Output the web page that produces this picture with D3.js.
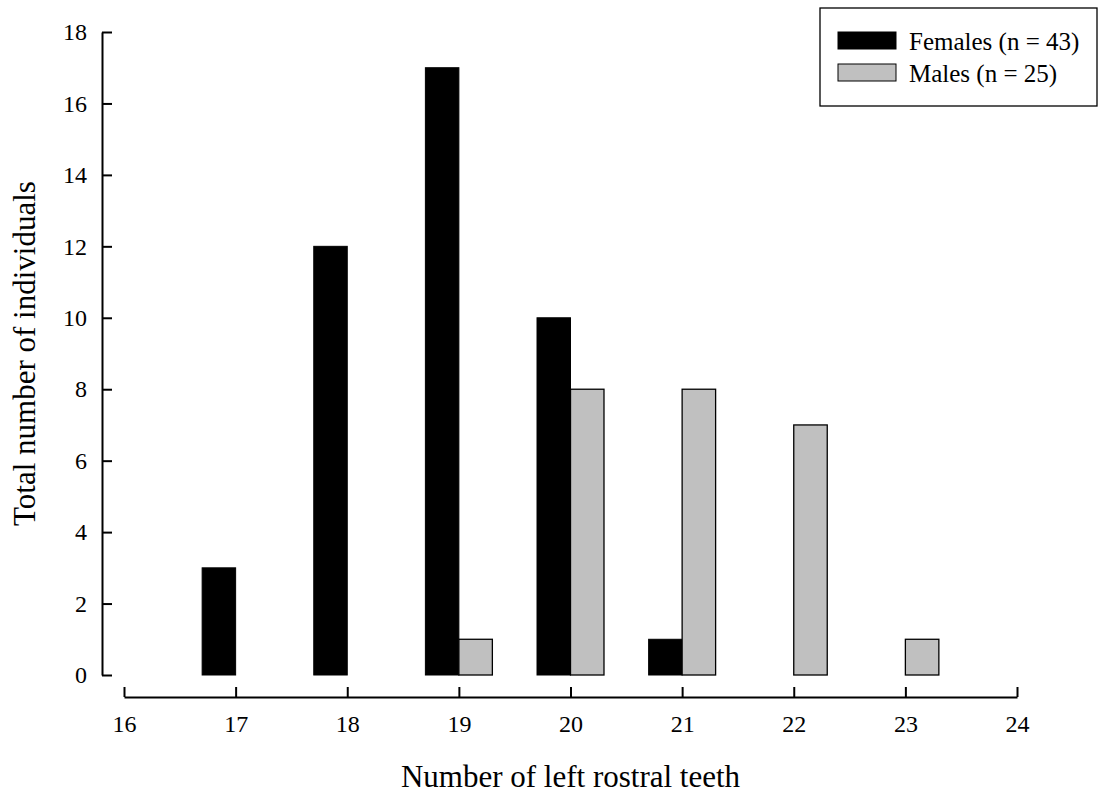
<!DOCTYPE html>
<html>
<head>
<meta charset="utf-8">
<script src="https://cdn.jsdelivr.net/npm/d3@7"></script>
<style>
  body { margin: 0; background: #fff; }
  svg { font-family: "Liberation Serif", "Times New Roman", serif; }
</style>
</head>
<body>
<svg id="chart"></svg>
<script>
const teeth = [17, 18, 19, 20, 21, 22, 23];
const females = [3, 12, 17, 10, 1, 0, 0];
const males = [0, 0, 1, 8, 8, 7, 1];
const xTicks = [16, 17, 18, 19, 20, 21, 22, 23, 24];
const yTicks = [0, 2, 4, 6, 8, 10, 12, 14, 16, 18];
const seriesNames = ["Females (n = 43)", "Males (n = 25)"];

const svg = d3.select("#chart").attr("width", 1101).attr("height", 796);

// scales
const x = d3.scaleLinear().domain([16, 24]).range([124, 1017]);
const y = d3.scaleLinear().domain([0, 18]).range([675, 32]);
const barW = x(16.3) - x(16);

// bars: females left of the tick, males right of it
const data = teeth.map((t, i) => ({ t: t, f: females[i], m: males[i] }));

svg.selectAll(".fem")
  .data(data.filter((d) => d.f > 0))
  .enter()
  .append("rect")
  .attr("x", (d) => x(d.t) - barW)
  .attr("y", (d) => y(d.f))
  .attr("width", barW)
  .attr("height", (d) => y(0) - y(d.f))
  .attr("fill", "#000")
  .attr("stroke", "#000");

svg.selectAll(".mal")
  .data(data.filter((d) => d.m > 0))
  .enter()
  .append("rect")
  .attr("x", (d) => x(d.t))
  .attr("y", (d) => y(d.m))
  .attr("width", barW)
  .attr("height", (d) => y(0) - y(d.m))
  .attr("fill", "#c0c0c0")
  .attr("stroke", "#000")
  .attr("stroke-width", 1.3);

// y axis, ticks point inward
const yAxis = svg.append("g")
  .attr("transform", "translate(102,0)")
  .call(d3.axisRight(y).tickValues(yTicks).tickSize(10).tickSizeOuter(0));
yAxis.selectAll("text")
  .attr("x", -15)
  .attr("text-anchor", "end")
  .style("font-size", "24px")
  .style("font-family", "Liberation Serif");

// x axis, sits below the plot with ticks pointing up
const xAxis = svg.append("g")
  .attr("transform", "translate(0,697)")
  .call(d3.axisTop(x).tickValues(xTicks).tickSize(10).tickSizeOuter(0));
xAxis.selectAll("text")
  .attr("y", 35)
  .attr("dy", 0)
  .style("font-size", "24px")
  .style("font-family", "Liberation Serif");

svg.selectAll(".domain, .tick line").attr("stroke", "#000").attr("stroke-width", 2);

// axis titles
svg.append("text")
  .attr("x", x(20))
  .attr("y", 787)
  .attr("text-anchor", "middle")
  .style("font-size", "31px")
  .text("Number of left rostral teeth");

svg.append("text")
  .attr("transform", "translate(35," + y(9) + ") rotate(-90)")
  .attr("text-anchor", "middle")
  .style("font-size", "31px")
  .text("Total number of individuals");

// legend
const legend = svg.append("g");
legend.append("rect")
  .attr("x", 820).attr("y", 8)
  .attr("width", 277).attr("height", 98)
  .attr("fill", "#fff").attr("stroke", "#000").attr("stroke-width", 1.3);

const fills = ["#000", "#c0c0c0"];
seriesNames.forEach((name, i) => {
  legend.append("rect")
    .attr("x", 838).attr("y", 32 + i * 32)
    .attr("width", 58).attr("height", 17)
    .attr("fill", fills[i]).attr("stroke", "#000");
  legend.append("text")
    .attr("x", 909).attr("y", 50 + i * 32)
    .style("font-size", "25px")
    .text(name);
});
</script>
</body>
</html>
